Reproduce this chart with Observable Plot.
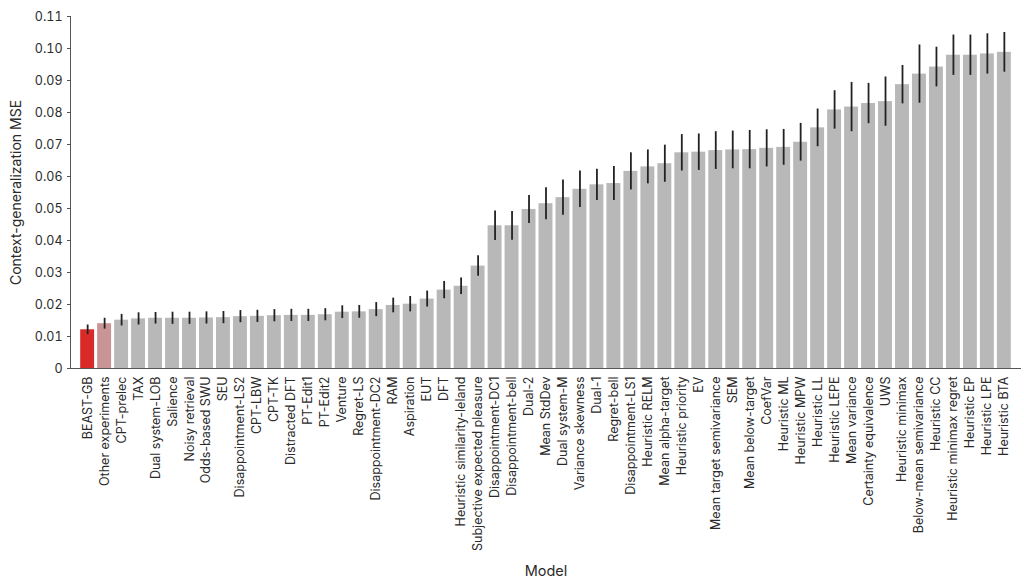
<!DOCTYPE html>
<html>
<head>
<meta charset="utf-8">
<script src="https://cdn.jsdelivr.net/npm/d3@7"></script>
<script src="https://cdn.jsdelivr.net/npm/@observablehq/plot@0.6"></script>
<style>
  html, body { margin: 0; padding: 0; background: #fff; }
  #chart { width: 1024px; height: 588px; }
</style>
</head>
<body>
<div id="chart"></div>
<script>
const models = [
  "BEAST-GB", "Other experiments", "CPT-prelec", "TAX", "Dual system-LOB", "Salience",
  "Noisy retrieval", "Odds-based SWU", "SEU", "Disappointment-LS2", "CPT-LBW", "CPT-TK",
  "Distracted DFT", "PT-Edit1", "PT-Edit2", "Venture", "Regret-LS", "Disappointment-DC2",
  "RAM", "Aspiration", "EUT", "DFT", "Heuristic similarity-leland", "Subjective expected pleasure",
  "Disappointment-DC1", "Disappointment-bell", "Dual-2", "Mean StdDev", "Dual system-M",
  "Variance skewness", "Dual-1", "Regret-bell", "Disappointment-LS1", "Heuristic RELM",
  "Mean alpha-target", "Heuristic priority", "EV", "Mean target semivariance", "SEM",
  "Mean below-target", "CoefVar", "Heuristic ML", "Heuristic MPW", "Heuristic LL",
  "Heuristic LEPE", "Mean variance", "Certainty equivalence", "UWS", "Heuristic minimax",
  "Below-mean semivariance", "Heuristic CC", "Heuristic minimax regret", "Heuristic EP",
  "Heuristic LPE", "Heuristic BTA"
];

const mse = [
  0.0121, 0.0140, 0.0151, 0.0155, 0.0157, 0.0157,
  0.0157, 0.0158, 0.0159, 0.0162, 0.0163, 0.0165,
  0.0166, 0.0166, 0.0168, 0.0176, 0.0177, 0.0184,
  0.0197, 0.0201, 0.0217, 0.0245, 0.0257, 0.0320,
  0.0446, 0.0446, 0.0497, 0.0515, 0.0534,
  0.0560, 0.0574, 0.0578, 0.0616, 0.0630,
  0.0640, 0.0674, 0.0676, 0.0681, 0.0683,
  0.0684, 0.0688, 0.0691, 0.0707, 0.0752,
  0.0808, 0.0817, 0.0828, 0.0834, 0.0887,
  0.0920, 0.0942, 0.0979, 0.0979,
  0.0983, 0.0988
];

const err = [
  0.0015, 0.0017, 0.0018, 0.0019, 0.0018, 0.0019,
  0.0019, 0.0019, 0.0019, 0.0019, 0.0019, 0.0019,
  0.0019, 0.0019, 0.0019, 0.0020, 0.0020, 0.0022,
  0.0023, 0.0024, 0.0025, 0.0027, 0.0026, 0.0032,
  0.0046, 0.0045, 0.0044, 0.0050, 0.0055,
  0.0057, 0.0049, 0.0053, 0.0058, 0.0053,
  0.0058, 0.0057, 0.0057, 0.0059, 0.0059,
  0.0060, 0.0058, 0.0056, 0.0059, 0.0059,
  0.0060, 0.0077, 0.0063, 0.0077, 0.0060,
  0.0091, 0.0062, 0.0063, 0.0063,
  0.0063, 0.0062
];

const yTicks = [0, 0.01, 0.02, 0.03, 0.04, 0.05, 0.06, 0.07, 0.08, 0.09, 0.10, 0.11];

const highlight = {"BEAST-GB": "#d92a2a", "Other experiments": "#c99496"};
const baseColor = "#b8b8b8";

const rows = models.map((m, i) => ({model: m, mse: mse[i], err: err[i], lo: mse[i] - err[i], hi: mse[i] + err[i]}));

const font = "Inter, 'Noto Sans', sans-serif";

const chart = Plot.plot({
  width: 1024,
  height: 588,
  marginLeft: 70,
  marginRight: 3,
  marginTop: 16,
  marginBottom: 220,
  style: {fontFamily: font, fontSize: "12.5px", color: "#2a2a2a", background: "#fff"},
  x: {domain: models, paddingInner: 0.18, paddingOuter: 0.6, label: null},
  y: {domain: [0, 0.11], label: null},
  marks: [
    Plot.barY(rows, {
      x: "model", y: "mse",
      fill: d => highlight[d.model] ?? baseColor
    }),
    Plot.ruleX(rows, {x: "model", y1: "lo", y2: "hi", stroke: "#222", strokeWidth: 1.8}),
    Plot.frame({anchor: "left", stroke: "#555"}),
    Plot.ruleY([0], {stroke: "#555", strokeWidth: 1.2}),
    Plot.axisY({
      ticks: yTicks,
      tickSize: 3,
      tickPadding: 5,
      tickFormat: d => d === 0 ? "0" : d.toFixed(2),
      label: null,
      stroke: "#555",
      fontSize: 12.5
    }),
    Plot.axisX({
      tickRotate: -90,
      tickSize: 0,
      tickPadding: 8,
      label: null,
      fontSize: 12.5
    }),
    Plot.text(["Context-generalization MSE"], {
      frameAnchor: "left", textAnchor: "middle", dx: -54, rotate: -90, fontSize: 14, fill: "#2a2a2a"
    }),
    Plot.text(["Model"], {
      frameAnchor: "bottom", dy: 207, fontSize: 14.5, fill: "#2a2a2a"
    })
  ]
});

document.getElementById("chart").appendChild(chart);
</script>
</body>
</html>
